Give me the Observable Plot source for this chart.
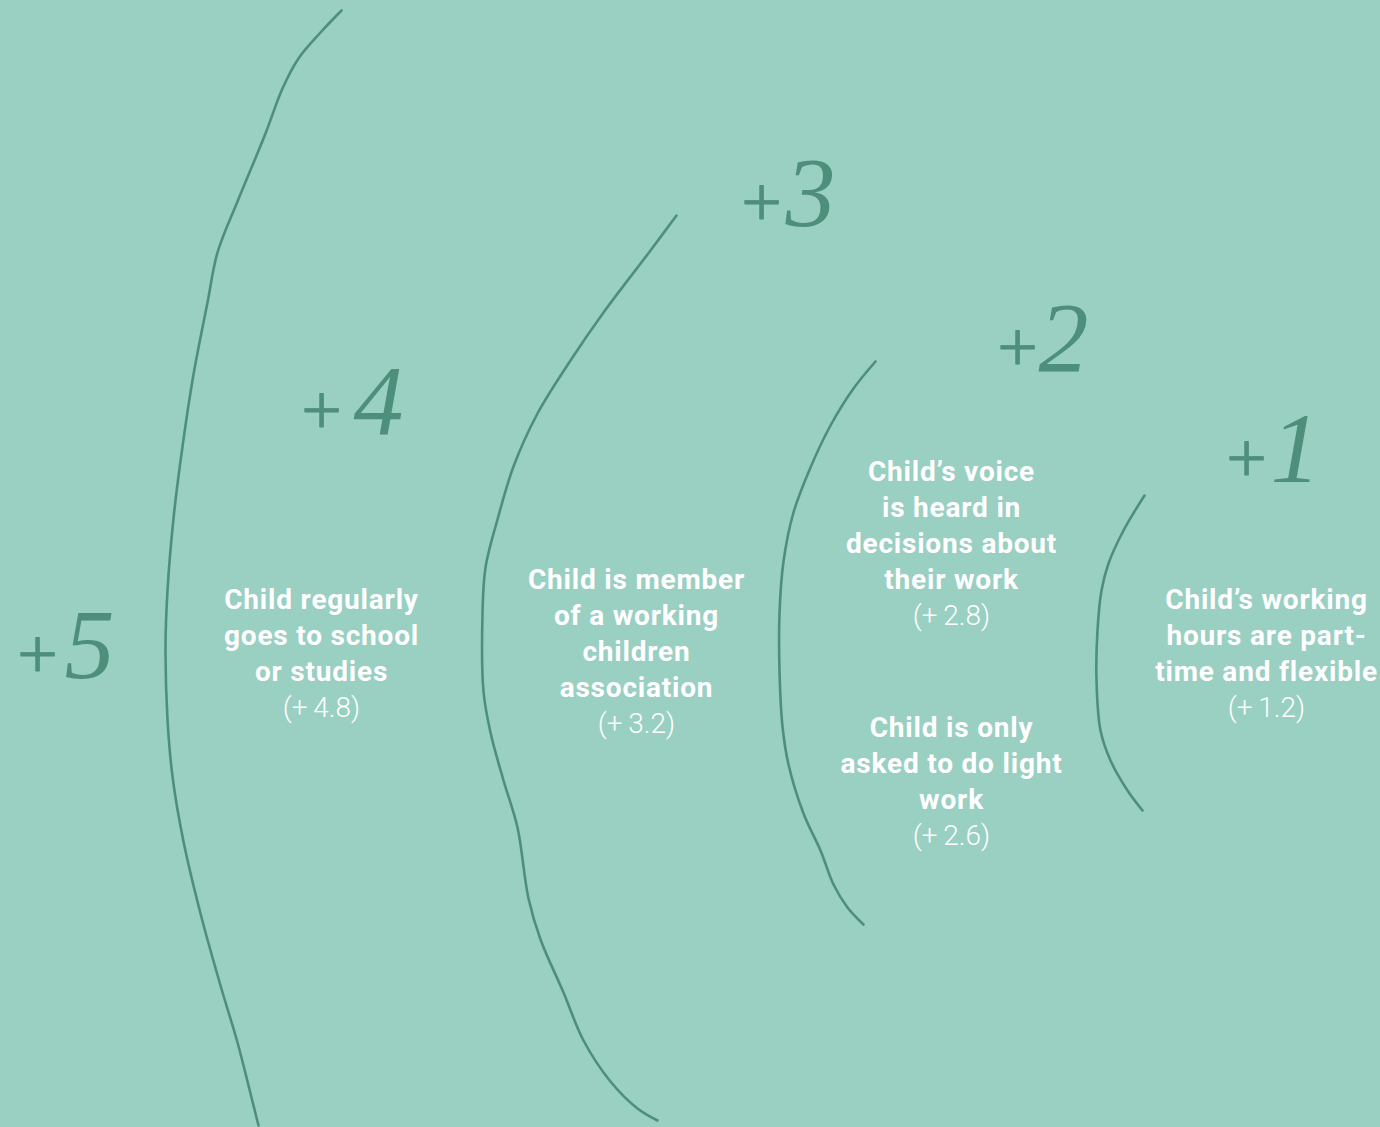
<!DOCTYPE html>
<html>
<head>
<meta charset="utf-8">
<script src="https://cdn.jsdelivr.net/npm/d3@7"></script>
<script src="https://cdn.jsdelivr.net/npm/@observablehq/plot@0.6"></script>
<style>
  html, body { margin: 0; padding: 0; background: #99d0c2; }
  #chart svg { display: block; background: #99d0c2; }
  #chart g[font-weight="700"] { letter-spacing: 0.8px; }
</style>
</head>
<body>
<div id="chart"></div>
<script>
// ---- data ----
const levels = [5, 4, 3, 2, 1];
const factorLabels = [
  "Child regularly\ngoes to school\nor studies",
  "Child is member\nof a working\nchildren\nassociation",
  "Child\u2019s voice\nis heard in\ndecisions about\ntheir work",
  "Child is only\nasked to do light\nwork",
  "Child\u2019s working\nhours are part-\ntime and flexible"
];
const factorValues = [4.8, 3.2, 2.8, 2.6, 1.2];

// ---- layout (picture coordinates) ----
const levelPlusX  = [37, 321, 761, 1017, 1246];
const levelDigitX = [64, 353, 785, 1038, 1270];
const levelBaseY  = [677, 433, 225, 370, 481];
const labelX      = [321, 636, 951, 951, 1266];
const labelLastBaseY = [680, 696, 588, 808, 680];

const arc5 = [[341,10],[320,32],[298,58],[282,88],[265,133],[237,201],[217,252],[207,302],[193,374],[182,446],[173,518],[167,590],[165,647],[167,719],[172,776],[183,841],[200,913],[220,985],[237,1042],[250,1093],[258,1125]];
const arc4 = [[676,215],[650,250],[603,312],[570,360],[537,413],[513,466],[497,519],[485,567],[482,614],[483,691],[490,732],[503,780],[517,827],[528,898],[540,939],[563,992],[583,1040],[610,1081],[637,1108],[657,1120]];
const arc3 = [[875,361],[853,388],[830,425],[810,467],[793,512],[783,561],[779,613],[779,670],[782,726],[788,764],[803,813],[820,850],[833,884],[847,907],[863,924]];
const arc2 = [[1144,495],[1123,530],[1108,563],[1101,590],[1097,630],[1096,680],[1100,730],[1110,760],[1127,790],[1142,810]];

// ---- build tables ----
const arcs = [arc5, arc4, arc3, arc2].flatMap((pts, i) => pts.map(([x, y]) => ({x, y, arc: i})));
const levelRows = levels.map((lv, i) => ({lv, px: levelPlusX[i], dx: levelDigitX[i], y: levelBaseY[i]}));
const labelRows = factorLabels.map((t, i) => ({
  text: t, value: factorValues[i], x: labelX[i], y: labelLastBaseY[i]
}));

const green = "#4e8f7b";
const W = 1380, H = 1127;

const chart = Plot.plot({
  width: W, height: H,
  margin: 0,
  x: {domain: [0, W], range: [0, W], axis: null},
  y: {domain: [0, H], range: [0, H], axis: null},
  style: {background: "#99d0c2", overflow: "visible"},
  marks: [
    Plot.line(arcs, {x: "x", y: "y", z: "arc", stroke: green, strokeWidth: 2.6, curve: "catmull-rom"}),
    Plot.text(levelRows, {x: "px", y: "y", text: () => "+", fill: green, fontFamily: "Liberation Serif, serif",
      fontSize: 72, textAnchor: "middle", lineAnchor: "bottom", stroke: green, strokeWidth: 0.8}),
    Plot.text(levelRows, {x: "dx", y: "y", text: d => String(d.lv), fill: green, fontFamily: "Liberation Serif, serif",
      fontStyle: "italic", fontSize: 100, textAnchor: "start", lineAnchor: "bottom"}),
    Plot.text(labelRows, {x: "x", y: "y", text: "text", fill: "white", fontFamily: "Roboto, sans-serif",
      fontWeight: 700, fontSize: 28, lineHeight: 36 / 28, textAnchor: "middle", lineAnchor: "bottom"}),
    Plot.text(labelRows, {x: "x", y: d => d.y + 36, text: d => `(+\u2009${d.value.toFixed(1)})`, fill: "white",
      fontFamily: "Roboto, sans-serif", fontWeight: 300, fontSize: 28, textAnchor: "middle", lineAnchor: "bottom"})
  ]
});
document.getElementById("chart").appendChild(chart);
</script>
</body>
</html>
